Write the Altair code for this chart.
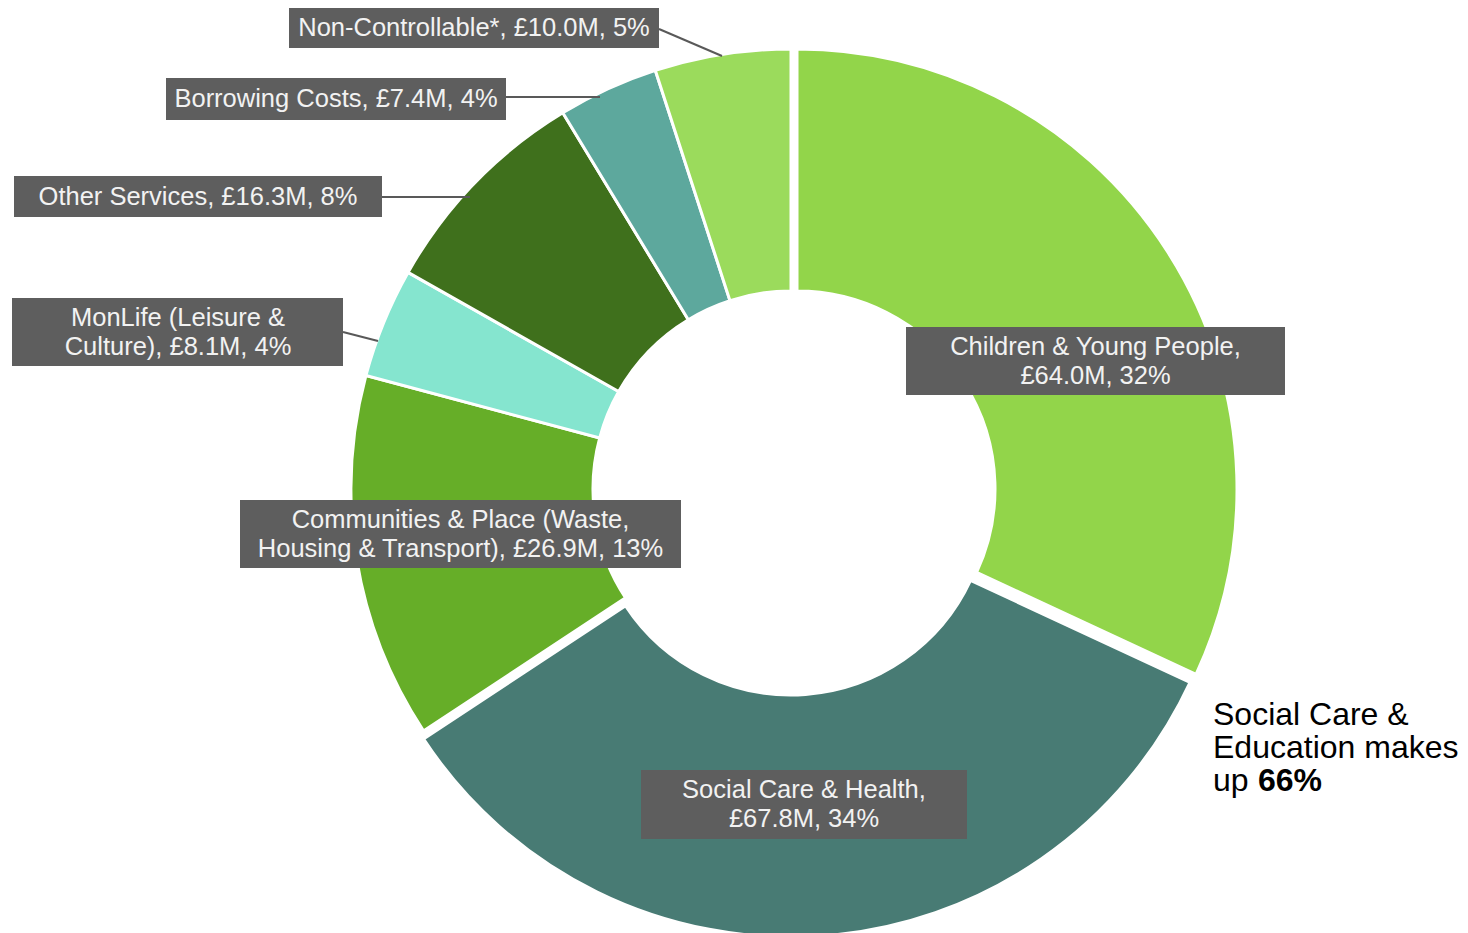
import altair as alt
import pandas as pd

# ---------------- data ----------------
categories = [
    "Children & Young People",
    "Social Care & Health",
    "Communities & Place (Waste, Housing & Transport)",
    "MonLife (Leisure & Culture)",
    "Other Services",
    "Borrowing Costs",
    "Non-Controllable*",
]
values = [64.0, 67.8, 26.9, 8.1, 16.3, 7.4, 10.0]
percents = [32, 34, 13, 4, 8, 4, 5]
colors = ["#92D54A", "#487B74", "#66AE28", "#85E5CF", "#3F701C", "#5DA89D", "#9BDB5C"]
label_lines = [
    ["Children & Young People,", "£64.0M, 32%"],
    ["Social Care & Health,", "£67.8M, 34%"],
    ["Communities & Place (Waste,", "Housing & Transport), £26.9M, 13%"],
    ["MonLife (Leisure &", "Culture), £8.1M, 4%"],
    ["Other Services, £16.3M, 8%"],
    ["Borrowing Costs, £7.4M, 4%"],
    ["Non-Controllable*, £10.0M, 5%"],
]
annotation_lines = ["Social Care &", "Education makes", "up "]
annotation_bold = "66%"

total = sum(values)
df = pd.DataFrame({"category": categories, "value": values, "order": list(range(len(categories)))})

# ---------------- layout ----------------
CX, CY = 783, 481          # donut centre (chart coords)
R_OUT, R_IN = 440, 198
offsets = {                 # exploded slices
    "Children & Young People": (6, 0),
    "Social Care & Health": (0, 8),
}
FONT = "Liberation Sans"
BOX = "#5E5E5E"
LH = 29

# label boxes: (x1, x2, y1, y2), text centre x, leader line or None
label_layout = [
    ((898, 1277, 319, 387), 1087.5, None),
    ((633, 959, 762, 831), 796, None),
    ((232, 673, 492, 560), 452.5, None),
    ((4, 335, 290, 358), 170, (335, 324, 370, 333)),
    ((6, 374, 168, 209), 190, (374, 189, 462, 189)),
    ((158, 498, 70, 112), 328, (498, 89, 592, 89)),
    ((281, 651, 0, 40), 466, (651, 21, 714, 48)),
]

color_scale = alt.Scale(domain=categories, range=colors)
theta_scale = alt.Scale(domain=[0, total], range=[0, 6.283185307179586])

base = (
    alt.Chart(df)
    .transform_window(cum="sum(value)", sort=[alt.SortField("order", order="ascending")])
    .transform_calculate(start="datum.cum - datum.value")
)


def arc_layer(filter_expr, dx, dy):
    return (
        base.transform_filter(filter_expr)
        .mark_arc(radius=R_OUT, radius2=R_IN, stroke="white", strokeWidth=3)
        .encode(
            theta=alt.Theta("start:Q", scale=theta_scale),
            theta2="cum:Q",
            color=alt.Color("category:N", scale=color_scale, legend=None),
            x=alt.value(CX + dx),
            y=alt.value(CY + dy),
        )
    )


exploded = list(offsets.keys())
layers = [
    arc_layer(
        " && ".join([f"datum.category != '{c}'" for c in exploded]), 0, 0
    )
]
for c, (dx, dy) in offsets.items():
    layers.append(arc_layer(f"datum.category == '{c}'", dx, dy))

dummy = pd.DataFrame({"a": [0]})

for lines, ((x1, x2, y1, y2), tx, leader) in zip(label_lines, label_layout):
    if leader is not None:
        lx1, ly1, lx2, ly2 = leader
        layers.append(
            alt.Chart(dummy)
            .mark_rule(color="#595959", strokeWidth=2)
            .encode(x=alt.value(lx1), y=alt.value(ly1), x2=alt.value(lx2), y2=alt.value(ly2))
        )
    layers.append(
        alt.Chart(dummy)
        .mark_rect(color=BOX)
        .encode(x=alt.value(x1), x2=alt.value(x2), y=alt.value(y1), y2=alt.value(y2))
    )
    ty = (y1 + y2) / 2 - LH * (len(lines) - 1) / 2
    layers.append(
        alt.Chart(dummy)
        .mark_text(
            text=lines if len(lines) > 1 else lines[0],
            font=FONT,
            fontSize=25.5,
            lineHeight=LH,
            color="#F2F2F2",
            align="center",
            baseline="middle",
        )
        .encode(x=alt.value(tx), y=alt.value(ty))
    )

# annotation
ANN_X = 1205
ann_ys = [707, 740, 773]
for txt, yy in zip(annotation_lines, ann_ys):
    layers.append(
        alt.Chart(dummy)
        .mark_text(text=txt, font=FONT, fontSize=32, color="#000000", align="left", baseline="middle")
        .encode(x=alt.value(ANN_X), y=alt.value(yy))
    )
layers.append(
    alt.Chart(dummy)
    .mark_text(text=annotation_bold, font=FONT, fontSize=32, fontWeight="bold", color="#000000",
               align="left", baseline="middle")
    .encode(x=alt.value(ANN_X + 45), y=alt.value(ann_ys[2]))
)

chart = (
    alt.layer(*layers)
    .properties(width=1452, height=925, padding=0, autosize=alt.AutoSizeParams(type="none"))
    .configure_view(stroke=None)
)

chart.save("out.html", embed_options={"renderer": "svg", "actions": False})
